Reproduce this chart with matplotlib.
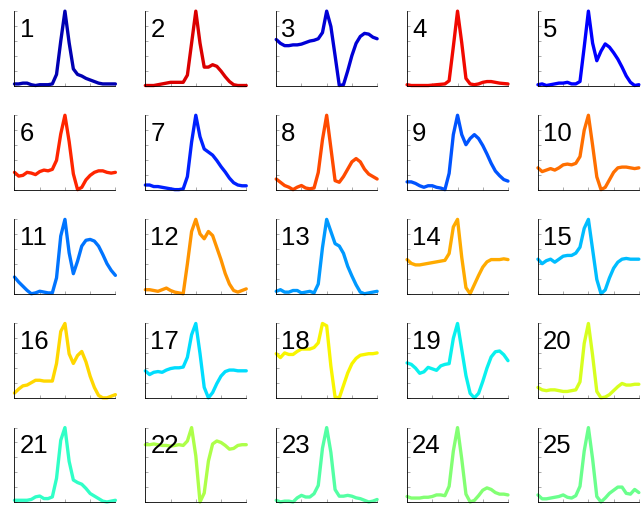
import matplotlib
matplotlib.use("Agg")
import matplotlib.pyplot as plt
import numpy as np

# 25 waveforms, 25 samples each, peak at sample 12
w01 = [0.08, 0.08, 0.09, 0.09, 0.07, 0.06, 0.07, 0.07, 0.07, 0.08, 0.2, 0.62, 1.0, 0.6, 0.27, 0.2, 0.18, 0.15, 0.13, 0.11, 0.09, 0.08, 0.08, 0.08, 0.08]
w02 = [0.07, 0.07, 0.07, 0.08, 0.09, 0.1, 0.11, 0.11, 0.11, 0.11, 0.2, 0.6, 1.0, 0.6, 0.3, 0.3, 0.33, 0.31, 0.25, 0.18, 0.12, 0.08, 0.07, 0.07, 0.07]
w03 = [0.63, 0.58, 0.55, 0.55, 0.56, 0.56, 0.57, 0.59, 0.61, 0.62, 0.64, 0.72, 1.0, 0.8, 0.42, 0.03, 0.04, 0.22, 0.42, 0.58, 0.67, 0.71, 0.7, 0.66, 0.64]
w04 = [0.07, 0.06, 0.06, 0.06, 0.06, 0.06, 0.065, 0.07, 0.075, 0.08, 0.12, 0.55, 1.0, 0.6, 0.15, 0.08, 0.07, 0.08, 0.1, 0.11, 0.11, 0.1, 0.09, 0.085, 0.08]
w05 = [0.08, 0.09, 0.07, 0.08, 0.09, 0.1, 0.1, 0.11, 0.09, 0.09, 0.12, 0.55, 1.0, 0.6, 0.38, 0.5, 0.59, 0.55, 0.48, 0.4, 0.3, 0.19, 0.11, 0.07, 0.08]
w06 = [0.24, 0.19, 0.2, 0.24, 0.23, 0.21, 0.25, 0.27, 0.26, 0.28, 0.4, 0.75, 1.0, 0.65, 0.22, 0.01, 0.04, 0.14, 0.2, 0.24, 0.26, 0.26, 0.24, 0.23, 0.24]
w07 = [0.09, 0.09, 0.07, 0.07, 0.06, 0.05, 0.04, 0.03, 0.03, 0.04, 0.2, 0.65, 1.0, 0.72, 0.56, 0.52, 0.48, 0.41, 0.33, 0.26, 0.18, 0.12, 0.09, 0.08, 0.08]
w08 = [0.22, 0.18, 0.14, 0.12, 0.09, 0.12, 0.14, 0.11, 0.1, 0.11, 0.3, 0.7, 1.0, 0.6, 0.2, 0.18, 0.25, 0.34, 0.43, 0.47, 0.43, 0.34, 0.28, 0.25, 0.22]
w09 = [0.14, 0.14, 0.12, 0.09, 0.07, 0.09, 0.09, 0.07, 0.06, 0.04, 0.25, 0.75, 1.0, 0.75, 0.62, 0.7, 0.75, 0.7, 0.61, 0.5, 0.38, 0.28, 0.22, 0.17, 0.15]
w10 = [0.3, 0.25, 0.27, 0.29, 0.27, 0.3, 0.34, 0.35, 0.34, 0.36, 0.45, 0.8, 1.0, 0.6, 0.18, 0.01, 0.04, 0.14, 0.24, 0.3, 0.31, 0.31, 0.3, 0.29, 0.3]
w11 = [0.31, 0.25, 0.2, 0.15, 0.11, 0.12, 0.14, 0.13, 0.12, 0.12, 0.3, 0.8, 1.0, 0.6, 0.35, 0.5, 0.68, 0.75, 0.76, 0.74, 0.68, 0.58, 0.47, 0.39, 0.33]
w12 = [0.13, 0.13, 0.12, 0.11, 0.13, 0.15, 0.12, 0.1, 0.09, 0.08, 0.45, 0.85, 1.0, 0.82, 0.76, 0.85, 0.8, 0.65, 0.5, 0.33, 0.2, 0.12, 0.1, 0.12, 0.14]
w13 = [0.11, 0.13, 0.1, 0.1, 0.12, 0.12, 0.09, 0.1, 0.11, 0.09, 0.2, 0.65, 1.0, 0.85, 0.7, 0.67, 0.58, 0.42, 0.3, 0.19, 0.1, 0.08, 0.09, 0.1, 0.11]
w14 = [0.47, 0.42, 0.4, 0.4, 0.41, 0.42, 0.43, 0.44, 0.45, 0.46, 0.55, 0.9, 1.0, 0.5, 0.1, 0.02, 0.14, 0.26, 0.37, 0.44, 0.47, 0.47, 0.47, 0.48, 0.47]
w15 = [0.47, 0.41, 0.45, 0.47, 0.43, 0.47, 0.51, 0.52, 0.52, 0.55, 0.63, 0.88, 1.0, 0.6, 0.2, 0.01, 0.06, 0.22, 0.35, 0.43, 0.47, 0.48, 0.47, 0.47, 0.47]
w16 = [0.13, 0.18, 0.22, 0.23, 0.26, 0.29, 0.29, 0.28, 0.28, 0.28, 0.5, 0.9, 1.0, 0.62, 0.5, 0.6, 0.65, 0.52, 0.34, 0.2, 0.1, 0.07, 0.07, 0.09, 0.11]
w17 = [0.37, 0.32, 0.35, 0.36, 0.35, 0.38, 0.4, 0.41, 0.41, 0.42, 0.55, 0.85, 1.0, 0.6, 0.15, 0.01, 0.08, 0.2, 0.3, 0.36, 0.38, 0.38, 0.37, 0.37, 0.37]
w18 = [0.61, 0.56, 0.62, 0.6, 0.6, 0.64, 0.67, 0.67, 0.67, 0.69, 0.75, 1.0, 0.97, 0.45, 0.05, 0.04, 0.2, 0.36, 0.48, 0.55, 0.59, 0.6, 0.61, 0.61, 0.62]
w19 = [0.47, 0.45, 0.4, 0.33, 0.35, 0.41, 0.39, 0.37, 0.43, 0.45, 0.46, 0.8, 1.0, 0.65, 0.3, 0.06, 0.0, 0.06, 0.22, 0.4, 0.55, 0.62, 0.63, 0.58, 0.5]
w20 = [0.2, 0.17, 0.16, 0.17, 0.17, 0.16, 0.15, 0.15, 0.16, 0.17, 0.27, 0.75, 1.0, 0.6, 0.15, 0.07, 0.08, 0.11, 0.16, 0.21, 0.25, 0.23, 0.23, 0.24, 0.24]
w21 = [0.14, 0.14, 0.14, 0.14, 0.15, 0.18, 0.19, 0.16, 0.16, 0.18, 0.4, 0.85, 1.0, 0.6, 0.38, 0.35, 0.33, 0.28, 0.22, 0.19, 0.16, 0.13, 0.12, 0.13, 0.14]
w22 = [0.77, 0.77, 0.78, 0.77, 0.76, 0.76, 0.75, 0.76, 0.77, 0.76, 0.82, 1.0, 0.62, 0.0, 0.12, 0.55, 0.78, 0.82, 0.8, 0.76, 0.71, 0.72, 0.76, 0.77, 0.77]
w23 = [0.12, 0.1, 0.11, 0.11, 0.1, 0.15, 0.18, 0.16, 0.16, 0.2, 0.3, 0.75, 1.0, 0.7, 0.25, 0.17, 0.17, 0.18, 0.17, 0.15, 0.14, 0.12, 0.1, 0.11, 0.13]
w24 = [0.12, 0.1, 0.1, 0.1, 0.11, 0.11, 0.12, 0.14, 0.14, 0.13, 0.25, 0.7, 1.0, 0.6, 0.15, 0.05, 0.07, 0.13, 0.2, 0.23, 0.21, 0.17, 0.15, 0.15, 0.14]
w25 = [0.14, 0.09, 0.09, 0.1, 0.11, 0.12, 0.14, 0.11, 0.1, 0.13, 0.25, 0.7, 1.0, 0.6, 0.12, 0.05, 0.1, 0.16, 0.2, 0.24, 0.24, 0.16, 0.15, 0.21, 0.17]

waves = [w01, w02, w03, w04, w05, w06, w07, w08, w09, w10,
         w11, w12, w13, w14, w15, w16, w17, w18, w19, w20,
         w21, w22, w23, w24, w25]
labels = [str(k) for k in range(1, 26)]
# position of each line colour on the jet colormap
jet_pos = [0.045, 0.92, 0.075, 0.9, 0.12, 0.87, 0.16, 0.83, 0.21, 0.79,
           0.24, 0.75, 0.275, 0.73, 0.31, 0.68, 0.34, 0.65, 0.36, 0.61,
           0.41, 0.56, 0.45, 0.51, 0.48]

fig, axs = plt.subplots(5, 5, figsize=(6.44, 5.06), dpi=100)
plt.subplots_adjust(left=0.0225, right=0.992, top=0.976, bottom=0.006,
                    wspace=0.297, hspace=0.40)
cmap = plt.get_cmap("jet")

for n, ax in enumerate(axs.flat):
    y = np.array(waves[n])
    x = np.arange(len(y))
    ax.plot(x, y, color=cmap(jet_pos[n]), lw=2.4, solid_joinstyle="round",
            solid_capstyle="round", clip_on=False)
    ax.set_xlim(x[0], x[-1])
    ax.set_ylim(y.min(), y.max())
    ax.spines["top"].set_visible(False)
    ax.spines["right"].set_visible(False)
    ax.spines["left"].set_linewidth(0.6)
    ax.spines["bottom"].set_linewidth(0.6)
    ax.set_xticks(np.linspace(x[0], x[-1], 5))
    ax.set_yticks(np.linspace(y.min(), y.max(), 6))
    ax.tick_params(direction="in", length=2.5, width=0.5, color="#888888",
                   labelbottom=False, labelleft=False)
    ax.text(0.05, 0.667, labels[n], transform=ax.transAxes, fontsize=18.5,
            family="Liberation Sans", va="baseline", ha="left")

plt.savefig("out.png")
